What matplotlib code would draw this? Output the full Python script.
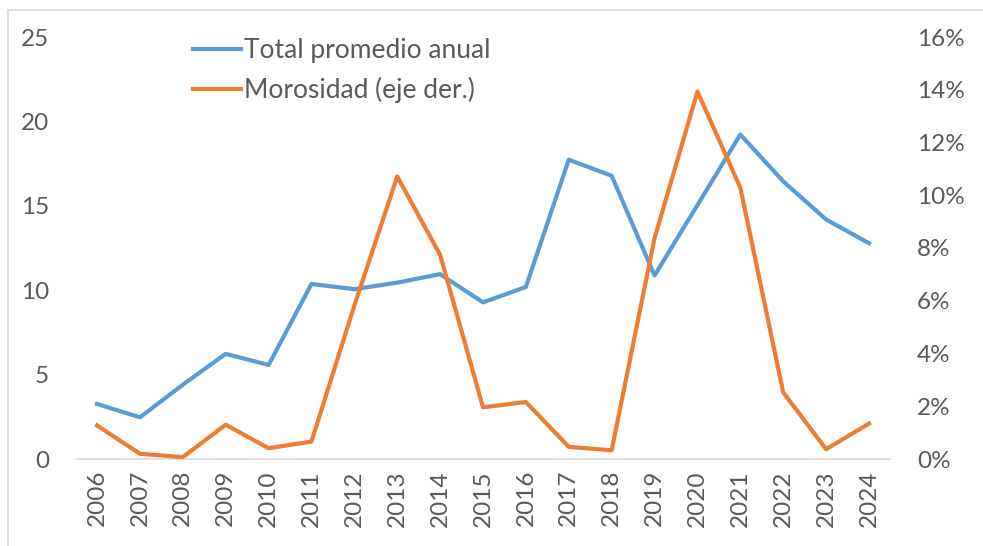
import matplotlib
matplotlib.use("Agg")
import matplotlib.pyplot as plt
from matplotlib.patches import Rectangle
from matplotlib.ticker import FuncFormatter, MultipleLocator

years = [str(y) for y in range(2006, 2025)]
total_promedio = [3.26, 2.47, 4.4, 6.23, 5.57, 10.37, 10.06, 10.45, 10.95, 9.28,
                  10.19, 17.73, 16.78, 10.87, 15.04, 19.22, 16.45, 14.19, 12.78]
morosidad = [1.27, 0.2, 0.07, 1.3, 0.41, 0.66, 5.82, 10.71, 7.74, 1.96,
             2.16, 0.46, 0.33, 8.37, 13.93, 10.29, 2.53, 0.37, 1.34]

blue = "#5B9BD5"
orange = "#ED7D31"
txt = "#595959"
font = "Lato"
fs = 17.5
lfs = 19

fig = plt.figure(figsize=(9.83, 5.46), dpi=100)
fig.patches.append(Rectangle((8/983, -0.1), 1.2, 1 - 10/546 + 0.1, transform=fig.transFigure,
                             fill=False, edgecolor="#d9d9d9", linewidth=1.2))
ax = fig.add_axes([75.6/983, 1 - 459/546, (890.4 - 75.6)/983, (459 - 37)/546])
ax2 = ax.twinx()

x = list(range(len(years)))
l1, = ax.plot(x, total_promedio, color=blue, lw=3, solid_joinstyle="round")
l2, = ax2.plot(x, morosidad, color=orange, lw=3, solid_joinstyle="round")

ax.set_xlim(-0.5, len(years) - 0.5)
ax.set_ylim(0, 25)
ax2.set_ylim(0, 16)
ax.yaxis.set_major_locator(MultipleLocator(5))
ax2.yaxis.set_major_locator(MultipleLocator(2))
ax2.yaxis.set_major_formatter(FuncFormatter(lambda v, p: f"{int(round(v))}%"))
ax.set_xticks(x)
ax.set_xticklabels(years, rotation=90)

for a in (ax, ax2):
    for s in a.spines.values():
        s.set_visible(False)
ax.spines["bottom"].set_visible(True)
ax.spines["bottom"].set_color("#d9d9d9")
ax.spines["bottom"].set_linewidth(1.2)

ax.tick_params(axis="y", length=0, pad=19, labelsize=fs, labelcolor=txt)
ax2.tick_params(axis="y", length=0, pad=19, labelsize=fs, labelcolor=txt)
ax.tick_params(axis="x", length=0, pad=8, labelsize=fs, labelcolor=txt)
for lab in ax.get_xticklabels() + ax.get_yticklabels() + ax2.get_yticklabels():
    lab.set_fontfamily(font)

leg = fig.legend([l1, l2], ["Total promedio anual", "Morosidad (eje der.)"],
                 loc="upper left", bbox_to_anchor=(193/983, 1 - 38/546),
                 frameon=False, handlelength=1.82, handletextpad=0.1,
                 borderpad=0, borderaxespad=0, labelspacing=0.52,
                 prop={"family": font, "size": lfs})
for t in leg.get_texts():
    t.set_color(txt)

fig.savefig("out.png", dpi=100)
